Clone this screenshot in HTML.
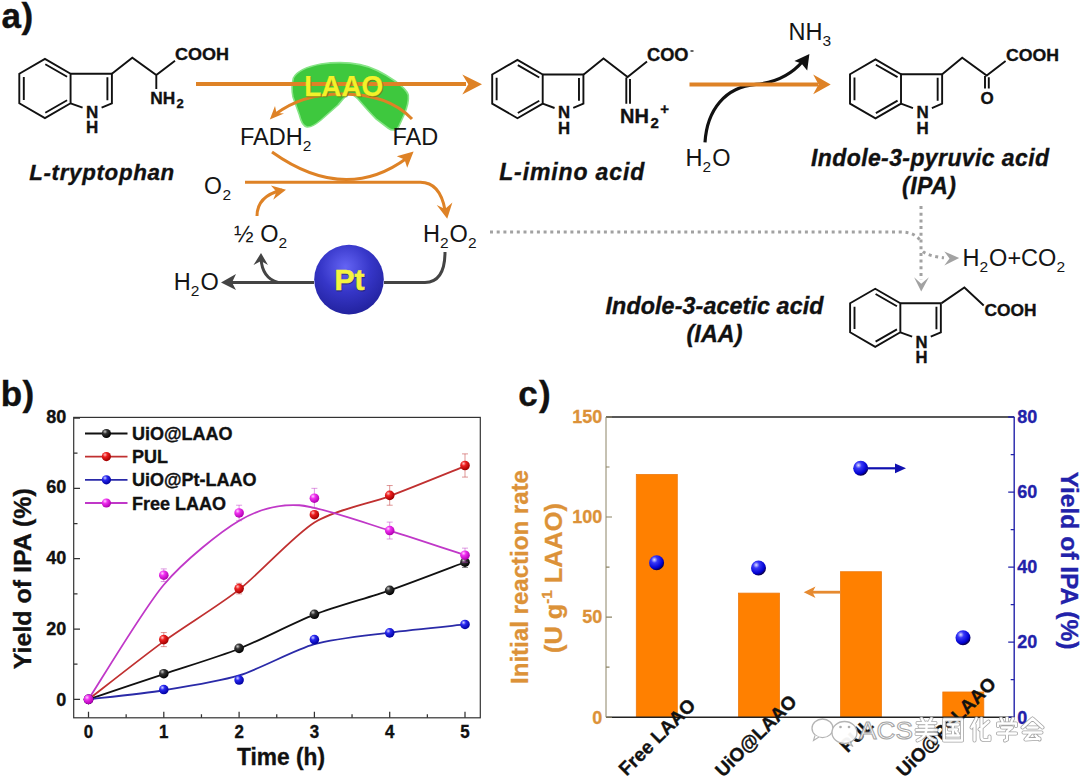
<!DOCTYPE html>
<html><head><meta charset="utf-8"><title>figure</title>
<style>
html,body{margin:0;padding:0;background:#fff;width:1080px;height:777px;overflow:hidden;}
svg{display:block;}
text{font-family:"Liberation Sans",sans-serif;}
.ab{font-weight:bold;fill:#111;}
.ar{fill:#151515;}
.bond path{fill:none;stroke:#111;stroke-width:1.9;stroke-linejoin:miter;}
.lbl{font-weight:bold;font-style:italic;fill:#111;stroke:#111;stroke-width:0.35;}
</style></head><body>
<svg width="1080" height="777" viewBox="0 0 1080 777">
<defs>
<radialGradient id="gPt" cx="0.45" cy="0.32" r="0.72">
<stop offset="0" stop-color="#6464f4"/><stop offset="0.5" stop-color="#3636c8"/><stop offset="1" stop-color="#20209a"/>
</radialGradient>
<radialGradient id="gBlk" cx="0.35" cy="0.3" r="0.7">
<stop offset="0" stop-color="#c8c8c8"/><stop offset="0.35" stop-color="#333"/><stop offset="1" stop-color="#000"/>
</radialGradient>
<radialGradient id="gRed" cx="0.35" cy="0.3" r="0.7">
<stop offset="0" stop-color="#ffc0c0"/><stop offset="0.35" stop-color="#ee2020"/><stop offset="1" stop-color="#a00000"/>
</radialGradient>
<radialGradient id="gBlue" cx="0.35" cy="0.3" r="0.7">
<stop offset="0" stop-color="#d0d0ff"/><stop offset="0.35" stop-color="#2828f0"/><stop offset="1" stop-color="#0000a0"/>
</radialGradient>
<radialGradient id="gMag" cx="0.35" cy="0.3" r="0.7">
<stop offset="0" stop-color="#ffd0ff"/><stop offset="0.35" stop-color="#f030f0"/><stop offset="1" stop-color="#b000b0"/>
</radialGradient>
<radialGradient id="gMol" cx="0.35" cy="0.3" r="0.7">
<stop offset="0" stop-color="#e0e0ff"/><stop offset="0.3" stop-color="#3838f8"/><stop offset="0.8" stop-color="#0000d0"/><stop offset="1" stop-color="#0a0050"/>
</radialGradient>
</defs>
<rect width="1080" height="777" fill="#fff"/>

<text class="ab" x="1.5" y="27.6" font-size="35" stroke="#111" stroke-width="0.4">a</text>
<text class="ab" x="21.5" y="27.6" font-size="35" stroke="#111" stroke-width="0.4">)</text>
<text class="ab" x="0.8" y="406" font-size="35" stroke="#111" stroke-width="0.4">b</text>
<text class="ab" x="22.5" y="406" font-size="35" stroke="#111" stroke-width="0.4">)</text>
<text class="ab" x="518.3" y="405.5" font-size="35" stroke="#111" stroke-width="0.4">c</text>
<text class="ab" x="539" y="405.5" font-size="35" stroke="#111" stroke-width="0.4">)</text>
<path d="M293.4,78 C297,71 305,67 321,64 C335,62 348,62 360,64.6 C372,67 385,74 395,81 C402,86 407,90 408.3,95 C409,101 407,108 404,115 L399,126 C397,131 392,131 388,128 L376,118.8 C370,113 364,106 358,99 C354,95 351,93.5 349,94 C346,95 343,99 338,105 L321,120 C315,125 311,127.5 307,127 C303,126 301,122 299.4,115 L293,97 C291.5,90 292,83 293.4,78 Z" fill="#3ec83e" stroke="#86e486" stroke-width="1.6"/>
<path d="M196,84 L466,84" stroke="#de8226" stroke-width="4" fill="none"/>
<path d="M482,84.2 L462.3,74.4 L468.3,84.2 L462.3,94.4 Z" fill="#de8226"/>
<path d="M412,119 C395,101 370,94 342,94 C312,94 290,103 275,114.5" stroke="#de8226" stroke-width="3" fill="none"/>
<path d="M269.8,119.4 L275,106 L276.5,113 L284,113.5 Z" fill="#de8226"/>
<text x="344.6" y="97.2" font-size="29.5" font-weight="bold" fill="#6a7010" stroke="#6a7010" stroke-width="0.5" text-anchor="middle" textLength="79" lengthAdjust="spacingAndGlyphs" opacity="0.7">LAAO</text>
<text x="343.8" y="96.4" font-size="29.5" font-weight="bold" fill="#f2f22a" stroke="#f2f22a" stroke-width="0.25" text-anchor="middle" textLength="79" lengthAdjust="spacingAndGlyphs">LAAO</text>
<text class="ar" x="240" y="144.8" font-size="23.5">FADH<tspan font-size="15.5" dy="5.8">2</tspan></text>
<text class="ar" x="392.5" y="144.8" font-size="23.5">FAD</text>
<path d="M272,152 Q345,204 407,158" stroke="#de8226" stroke-width="3" fill="none"/>
<path d="M413.6,151.6 L396.8,156.2 L404.5,159.5 L407.2,167.8 Z" fill="#de8226"/>
<text class="ar" x="204" y="194.2" font-size="23" textLength="27" lengthAdjust="spacing">O<tspan font-size="15.5" dy="5.8">2</tspan></text>
<path d="M245,182.2 L420,182.2 Q440,182 445,210" stroke="#de8226" stroke-width="3" fill="none"/>
<path d="M447.2,218.8 L436.7,204.9 L445,209 L452.4,202.6 Z" fill="#de8226"/>
<path d="M257,216 Q257,196 282,190" stroke="#de8226" stroke-width="3" fill="none"/>
<path d="M286,189.7 L270.9,185.4 L276.5,191.8 L273.2,199.7 Z" fill="#de8226"/>
<text class="ar" x="234" y="242" font-size="23.5">&#189; O<tspan font-size="15.5" dy="5.8">2</tspan></text>
<text class="ar" x="423" y="242" font-size="23.5">H<tspan font-size="15.5" dy="5.8">2</tspan><tspan dy="-5.8" dx="1">O</tspan><tspan font-size="15.5" dy="5.8">2</tspan></text>
<path d="M314,282.5 L227,282.5" stroke="#444" stroke-width="3" fill="none"/>
<path d="M221,282.5 L236,274 L232,282.5 L236,290 Z" fill="#444"/>
<path d="M278,282.5 Q262,278 261,258" stroke="#444" stroke-width="3" fill="none"/>
<path d="M261,253 L253.5,265 L261,261 L268,265 Z" fill="#444"/>
<path d="M384,282.5 L425,282.5 Q445,282 445,252" stroke="#444" stroke-width="3" fill="none"/>
<circle cx="349" cy="279.6" r="34.8" fill="url(#gPt)"/>
<text x="350.2" y="290.5" font-size="30" font-weight="bold" fill="#202060" stroke="#202060" stroke-width="1" text-anchor="middle" opacity="0.6">Pt</text>
<text x="349.5" y="289.8" font-size="30" font-weight="bold" fill="#f4f440" stroke="#f4f440" stroke-width="0.6" text-anchor="middle">Pt</text>
<text class="ar" x="173.8" y="289.8" font-size="23.5">H<tspan font-size="15.5" dy="5.8">2</tspan><tspan dy="-5.8" dx="1">O</tspan></text>
<path d="M490,232 L900,232 Q916,232 921,242" stroke="#a2a2a2" stroke-width="3" stroke-dasharray="3 3.7" fill="none"/>
<path d="M921,206 L921,280" stroke="#a2a2a2" stroke-width="3" stroke-dasharray="3 3.7" fill="none"/>
<path d="M921.2,291.4 L914.1,277.2 L921.2,283.7 L928.9,277.2 Z" fill="#a2a2a2"/>
<path d="M923,251.5 Q928,256 944,257.8" stroke="#a2a2a2" stroke-width="3" stroke-dasharray="3 3.7" fill="none"/>
<path d="M959.2,257.9 L944.3,251.5 L949.5,258.4 L944.3,265.6 Z" fill="#a2a2a2"/>
<text class="ar" x="962.5" y="265.8" font-size="23.5">H<tspan font-size="15.5" dy="5.8">2</tspan><tspan dy="-5.8" dx="1">O+CO</tspan><tspan font-size="15.5" dy="5.8">2</tspan></text>
<path d="M705,142.4 C707,110 725,87 756,84.4 C776,82.5 792,74 803,61" stroke="#111" stroke-width="3.2" fill="none"/>
<path d="M809.4,53.9 L794.4,61.1 L801.5,63.5 L807.2,70.6 Z" fill="#111"/>
<path d="M689.5,84.4 L818,84.4" stroke="#de8226" stroke-width="4" fill="none"/>
<path d="M830.7,84.4 L813.2,74.6 L818.5,84.4 L813.2,94.2 Z" fill="#de8226"/>
<text class="ar" x="788.5" y="39.8" font-size="23.5">NH<tspan font-size="15.5" dy="5.8">3</tspan></text>
<text class="ar" x="685.6" y="166.2" font-size="23.5">H<tspan font-size="15.5" dy="5.8">2</tspan><tspan dy="-5.8" dx="1">O</tspan></text>
<g class="bond"><path d="M19.3,73.7 L44.94,58.9 L70.57,73.7 L70.57,103.3 L44.94,118.1 L19.3,103.3 Z" /><path d="M70.57,73.7 L111.9,73.7 L111.9,103.3 L101.6,107.7" /><path d="M70.57,103.3 L82.6,107.7" /><path d="M23.8,77.1 L23.8,99.9 M45.3,64.2 L67.1,76.7 M67.1,100.3 L45.3,112.8 M107.4,77.3 L107.4,100.3" /></g>
<text class="ab" x="92.2" y="117.6" font-size="17" text-anchor="middle" stroke="#111" stroke-width="0.35">N</text>
<text class="ab" x="92.2" y="132.5" font-size="17" text-anchor="middle" stroke="#111" stroke-width="0.35">H</text>
<g class="bond"><path d="M111.9,73.7 L132.3,57.7 L156.3,75.1 L175,60.7 M156.3,75.1 L156.3,89" /></g>
<text class="ab" x="175" y="60.1" font-size="17" textLength="54" lengthAdjust="spacingAndGlyphs" stroke="#111" stroke-width="0.35">COOH</text>
<text class="ab" x="150.3" y="103.5" font-size="17.3" stroke="#111" stroke-width="0.35">NH<tspan font-size="13" dy="4.6" dx="1.2">2</tspan></text>
<text class="lbl" x="29.2" y="180" font-size="22.3" textLength="145" lengthAdjust="spacing">L-tryptophan</text>
<g class="bond"><path d="M492.2,74.5 L517.45,59.92 L542.7,74.5 L542.7,103.66 L517.45,118.23 L492.2,103.66 Z" /><path d="M542.7,74.5 L583.41,74.5 L583.41,103.66 L573.27,107.99" /><path d="M542.7,103.66 L554.55,107.99" /><path d="M496.63,77.85 L496.63,100.31 M517.81,65.14 L539.28,77.45 M539.28,100.7 L517.81,113.01 M578.98,78.05 L578.98,100.7" /></g>
<text class="ab" x="564.01" y="117.74" font-size="16.75" text-anchor="middle" stroke="#111" stroke-width="0.35">N</text>
<text class="ab" x="564.01" y="133.62" font-size="16.75" text-anchor="middle" stroke="#111" stroke-width="0.35">H</text>
<g class="bond"><path d="M583.7,74.5 L603.5,58.5 L627.6,77.1 L647,61.4 M626.3,77.5 L626.3,103.7 M630,79 L630,103.7" /></g>
<text class="ab" x="647" y="61.4" font-size="17.7" textLength="41.5" lengthAdjust="spacingAndGlyphs" stroke="#111" stroke-width="0.35">COO</text>
<path d="M690.5,51 L693.5,51" stroke="#111" stroke-width="1.3"/>
<text class="ab" x="620" y="122.9" font-size="20" stroke="#111" stroke-width="0.35">NH<tspan font-size="15" dy="4.6" dx="1.5">2</tspan><tspan font-size="15" dy="-13.5" dx="1.5">+</tspan></text>
<text class="lbl" x="499.2" y="179.9" font-size="23" textLength="145" lengthAdjust="spacing">L-imino  acid</text>
<g class="bond"><path d="M850,74.2 L875.51,59.47 L901.01,74.2 L901.01,103.65 L875.51,118.38 L850,103.65 Z" /><path d="M901.01,74.2 L942.14,74.2 L942.14,103.65 L931.89,108.03" /><path d="M901.01,103.65 L912.98,108.03" /><path d="M854.48,77.58 L854.48,100.27 M875.87,64.75 L897.56,77.19 M897.56,100.67 L875.87,113.1 M937.66,77.78 L937.66,100.67" /></g>
<text class="ab" x="922.54" y="117.88" font-size="16.91" text-anchor="middle" stroke="#111" stroke-width="0.35">N</text>
<text class="ab" x="922.54" y="133.51" font-size="16.91" text-anchor="middle" stroke="#111" stroke-width="0.35">H</text>
<g class="bond"><path d="M942.2,74.2 L962.2,57.8 L986.7,75.6 L1005.6,61.1 M985,76 L985,88.5 M988.8,77.3 L988.8,88.5" /></g>
<text class="ab" x="1006" y="60.6" font-size="17" textLength="53" lengthAdjust="spacingAndGlyphs" stroke="#111" stroke-width="0.35">COOH</text>
<text class="ab" x="987.1" y="103.6" font-size="17" text-anchor="middle" stroke="#111" stroke-width="0.35">O</text>
<text class="lbl" x="811" y="166" font-size="23" textLength="238" lengthAdjust="spacing">Indole-3-pyruvic acid</text>
<text class="lbl" x="902" y="194" font-size="23" textLength="54" lengthAdjust="spacing">(IPA)</text>
<g class="bond"><path d="M850.1,303.3 L875.22,288.8 L900.34,303.3 L900.34,332.31 L875.22,346.81 L850.1,332.31 Z" /><path d="M900.34,303.3 L940.85,303.3 L940.85,332.31 L930.75,336.62" /><path d="M900.34,332.31 L912.13,336.62" /><path d="M854.51,306.63 L854.51,328.98 M875.58,293.99 L896.94,306.24 M896.94,329.37 L875.58,341.62 M936.44,306.83 L936.44,329.37" /></g>
<text class="ab" x="921.54" y="347.52" font-size="16.66" text-anchor="middle" stroke="#111" stroke-width="0.35">N</text>
<text class="ab" x="921.54" y="362.72" font-size="16.66" text-anchor="middle" stroke="#111" stroke-width="0.35">H</text>
<g class="bond"><path d="M941.6,303.1 L964.4,287.5 L983.7,305.5" /></g>
<text class="ab" x="984.5" y="316.4" font-size="16.5" textLength="52" lengthAdjust="spacingAndGlyphs" stroke="#111" stroke-width="0.35">COOH</text>
<text class="lbl" x="605.5" y="314" font-size="23.3" textLength="218" lengthAdjust="spacing">Indole-3-acetic acid</text>
<text class="lbl" x="686.5" y="341.8" font-size="23.3" textLength="56" lengthAdjust="spacing">(IAA)</text>
<rect x="73.7" y="417.4" width="406.6" height="300.4" fill="none" stroke="#333" stroke-width="1.2"/>
<path d="M88.5,717.8 L88.5,711.8 M126.15,717.8 L126.15,714.3 M163.8,717.8 L163.8,711.8 M201.45,717.8 L201.45,714.3 M239.1,717.8 L239.1,711.8 M276.75,717.8 L276.75,714.3 M314.4,717.8 L314.4,711.8 M352.05,717.8 L352.05,714.3 M389.7,717.8 L389.7,711.8 M427.35,717.8 L427.35,714.3 M465,717.8 L465,711.8 M74,699.4 L80,699.4 M74,664.23 L77.5,664.23 M74,629.05 L80,629.05 M74,593.88 L77.5,593.88 M74,558.7 L80,558.7 M74,523.52 L77.5,523.52 M74,488.35 L80,488.35 M74,453.17 L77.5,453.17 M74,418 L80,418" stroke="#333" stroke-width="1.25" fill="none"/>
<text class="ab" x="88.5" y="738" font-size="18" text-anchor="middle" textLength="9.4" lengthAdjust="spacingAndGlyphs" stroke="#111" stroke-width="0.35">0</text>
<text class="ab" x="163.8" y="738" font-size="18" text-anchor="middle" textLength="9.4" lengthAdjust="spacingAndGlyphs" stroke="#111" stroke-width="0.35">1</text>
<text class="ab" x="239.1" y="738" font-size="18" text-anchor="middle" textLength="9.4" lengthAdjust="spacingAndGlyphs" stroke="#111" stroke-width="0.35">2</text>
<text class="ab" x="314.4" y="738" font-size="18" text-anchor="middle" textLength="9.4" lengthAdjust="spacingAndGlyphs" stroke="#111" stroke-width="0.35">3</text>
<text class="ab" x="389.7" y="738" font-size="18" text-anchor="middle" textLength="9.4" lengthAdjust="spacingAndGlyphs" stroke="#111" stroke-width="0.35">4</text>
<text class="ab" x="465" y="738" font-size="18" text-anchor="middle" textLength="9.4" lengthAdjust="spacingAndGlyphs" stroke="#111" stroke-width="0.35">5</text>
<text class="ab" x="66.2" y="705.7" font-size="18" text-anchor="end" stroke="#111" stroke-width="0.35">0</text>
<text class="ab" x="66.2" y="634.9" font-size="18" text-anchor="end" stroke="#111" stroke-width="0.35">20</text>
<text class="ab" x="66.2" y="564.1" font-size="18" text-anchor="end" stroke="#111" stroke-width="0.35">40</text>
<text class="ab" x="66.2" y="493.3" font-size="18" text-anchor="end" stroke="#111" stroke-width="0.35">60</text>
<text class="ab" x="66.2" y="422.5" font-size="18" text-anchor="end" stroke="#111" stroke-width="0.35">80</text>
<text class="ab" x="237" y="765.2" font-size="23" textLength="88" lengthAdjust="spacingAndGlyphs" stroke="#111" stroke-width="0.35">Time (h)</text>
<text class="ab" transform="translate(31.2,669.2) rotate(-90)" x="0" y="0" font-size="23" textLength="181" lengthAdjust="spacingAndGlyphs" stroke="#111" stroke-width="0.35">Yield of IPA (%)</text>
<path d="M88.5,699.4 C98.54,696.02 143.72,680.83 163.8,674.07 C183.88,667.32 219.02,656.67 239.1,648.75 C259.18,640.82 294.32,622.41 314.4,614.63 C334.48,606.84 369.62,597.35 389.7,590.36 C409.78,583.37 454.96,565.97 465,562.22" stroke="#111111" stroke-width="1.8" fill="none"/>
<path d="M88.5,699.4 C98.54,691.66 143.72,655.99 163.8,641.36 C183.88,626.73 219.02,605.51 239.1,589.65 C259.18,573.8 294.32,534.95 314.4,522.47 C334.48,509.99 369.62,503.59 389.7,496.09 C409.78,488.58 454.96,470.18 465,466.19" stroke="#c03030" stroke-width="1.8" fill="none"/>
<path d="M88.5,699.4 C98.54,698.18 143.72,693.44 163.8,690.25 C183.88,687.07 219.02,681.62 239.1,675.48 C259.18,669.34 294.32,649.9 314.4,644.18 C334.48,638.45 369.62,635.19 389.7,632.57 C409.78,629.94 454.96,625.56 465,624.48" stroke="#2a2aa8" stroke-width="1.8" fill="none"/>
<path d="M88.5,699.4 C98.54,684.11 143.72,608.55 163.8,584.73 C183.88,560.9 221.03,531.31 239.1,520.71 C257.17,510.11 279.26,503.92 299.34,505.23 C319.42,506.55 367.61,523.9 389.7,530.56 C411.79,537.22 454.96,551.9 465,555.18" stroke="#c038c8" stroke-width="1.8" fill="none"/>
<path d="M465,556.94 L465,567.49 M462,556.94 L468,556.94 M462,567.49 L468,567.49" stroke="#111111" stroke-opacity="0.5" stroke-width="1" fill="none"/>
<circle cx="88.5" cy="699.4" r="4.8" fill="url(#gBlk)"/>
<circle cx="163.8" cy="673.72" r="4.8" fill="url(#gBlk)"/>
<circle cx="239.1" cy="648.4" r="4.8" fill="url(#gBlk)"/>
<circle cx="314.4" cy="614.28" r="4.8" fill="url(#gBlk)"/>
<circle cx="389.7" cy="590.36" r="4.8" fill="url(#gBlk)"/>
<circle cx="465" cy="562.22" r="4.8" fill="url(#gBlk)"/>
<path d="M163.8,632.57 L163.8,646.64 M160.8,632.57 L166.8,632.57 M160.8,646.64 L166.8,646.64" stroke="#c03030" stroke-opacity="0.5" stroke-width="1" fill="none"/>
<path d="M239.1,583.32 L239.1,593.88 M236.1,583.32 L242.1,583.32 M236.1,593.88 L242.1,593.88" stroke="#c03030" stroke-opacity="0.5" stroke-width="1" fill="none"/>
<path d="M389.7,485.54 L389.7,505.23 M386.7,485.54 L392.7,485.54 M386.7,505.23 L392.7,505.23" stroke="#c03030" stroke-opacity="0.5" stroke-width="1" fill="none"/>
<path d="M465,453.88 L465,477.09 M462,453.88 L468,453.88 M462,477.09 L468,477.09" stroke="#c03030" stroke-opacity="0.5" stroke-width="1" fill="none"/>
<circle cx="88.5" cy="699.4" r="4.8" fill="url(#gRed)"/>
<circle cx="163.8" cy="639.6" r="4.8" fill="url(#gRed)"/>
<circle cx="239.1" cy="588.6" r="4.8" fill="url(#gRed)"/>
<circle cx="314.4" cy="514.73" r="4.8" fill="url(#gRed)"/>
<circle cx="389.7" cy="495.38" r="4.8" fill="url(#gRed)"/>
<circle cx="465" cy="465.49" r="4.8" fill="url(#gRed)"/>
<circle cx="88.5" cy="699.4" r="4.8" fill="url(#gBlue)"/>
<circle cx="163.8" cy="689.55" r="4.8" fill="url(#gBlue)"/>
<circle cx="239.1" cy="680.05" r="4.8" fill="url(#gBlue)"/>
<circle cx="314.4" cy="639.6" r="4.8" fill="url(#gBlue)"/>
<circle cx="389.7" cy="632.92" r="4.8" fill="url(#gBlue)"/>
<circle cx="465" cy="624.48" r="4.8" fill="url(#gBlue)"/>
<path d="M163.8,568.9 L163.8,581.56 M160.8,568.9 L166.8,568.9 M160.8,581.56 L166.8,581.56" stroke="#c038c8" stroke-opacity="0.5" stroke-width="1" fill="none"/>
<path d="M239.1,505.23 L239.1,520.71 M236.1,505.23 L242.1,505.23 M236.1,520.71 L242.1,520.71" stroke="#c038c8" stroke-opacity="0.5" stroke-width="1" fill="none"/>
<path d="M314.4,488.35 L314.4,508.05 M311.4,488.35 L317.4,488.35 M311.4,508.05 L317.4,508.05" stroke="#c038c8" stroke-opacity="0.5" stroke-width="1" fill="none"/>
<path d="M389.7,522.12 L389.7,539 M386.7,522.12 L392.7,522.12 M386.7,539 L392.7,539" stroke="#c038c8" stroke-opacity="0.5" stroke-width="1" fill="none"/>
<path d="M465,548.15 L465,562.22 M462,548.15 L468,548.15 M462,562.22 L468,562.22" stroke="#c038c8" stroke-opacity="0.5" stroke-width="1" fill="none"/>
<circle cx="88.5" cy="699.4" r="4.8" fill="url(#gMag)"/>
<circle cx="163.8" cy="575.23" r="4.8" fill="url(#gMag)"/>
<circle cx="239.1" cy="512.97" r="4.8" fill="url(#gMag)"/>
<circle cx="314.4" cy="498.2" r="4.8" fill="url(#gMag)"/>
<circle cx="389.7" cy="530.56" r="4.8" fill="url(#gMag)"/>
<circle cx="465" cy="555.18" r="4.8" fill="url(#gMag)"/>
<path d="M85,433.5 L127.5,433.5" stroke="#111111" stroke-width="1.8"/>
<circle cx="106.4" cy="433.5" r="4.6" fill="url(#gBlk)"/>
<text class="ab" x="132" y="440" font-size="18" stroke="#111" stroke-width="0.35">UiO@LAAO</text>
<path d="M85,456.6 L127.5,456.6" stroke="#c03030" stroke-width="1.8"/>
<circle cx="106.4" cy="456.6" r="4.6" fill="url(#gRed)"/>
<text class="ab" x="132" y="463.1" font-size="18" stroke="#111" stroke-width="0.35">PUL</text>
<path d="M85,479.8 L127.5,479.8" stroke="#2a2aa8" stroke-width="1.8"/>
<circle cx="106.4" cy="479.8" r="4.6" fill="url(#gBlue)"/>
<text class="ab" x="132" y="486.3" font-size="18" stroke="#111" stroke-width="0.35">UiO@Pt-LAAO</text>
<path d="M85,503 L127.5,503" stroke="#c038c8" stroke-width="1.8"/>
<circle cx="106.4" cy="503" r="4.6" fill="url(#gMag)"/>
<text class="ab" x="132" y="509.5" font-size="18" stroke="#111" stroke-width="0.35">Free LAAO</text>
<rect x="636.3" y="474.44" width="41" height="242.76" fill="#ff8000" stroke="#ee7a10" stroke-width="0.8"/>
<rect x="738.5" y="593.12" width="41" height="124.08" fill="#ff8000" stroke="#ee7a10" stroke-width="0.8"/>
<rect x="840.5" y="571.71" width="41" height="145.49" fill="#ff8000" stroke="#ee7a10" stroke-width="0.8"/>
<rect x="942.8" y="691.98" width="41" height="25.22" fill="#ff8000" stroke="#ee7a10" stroke-width="0.8"/>
<path d="M606,417 L1014.2,417 M606,717.2 L1014.2,717.2" stroke="#222" stroke-width="1.4"/>
<path d="M606,417 L606,717.2" stroke="#8c8466" stroke-width="1"/>
<path d="M1014.2,417 L1014.2,717.2" stroke="#2222aa" stroke-width="1.4"/>
<path d="M606,717.2 L612,717.2 M606,667.17 L609.5,667.17 M606,617.13 L612,617.13 M606,567.1 L609.5,567.1 M606,517.07 L612,517.07 M606,467.04 L609.5,467.04 M606,417.01 L612,417.01" stroke="#8c8466" stroke-width="1.1"/>
<path d="M1014.2,717.2 L1008.2,717.2 M1014.2,679.68 L1010.7,679.68 M1014.2,642.15 L1008.2,642.15 M1014.2,604.62 L1010.7,604.62 M1014.2,567.1 L1008.2,567.1 M1014.2,529.58 L1010.7,529.58 M1014.2,492.05 L1008.2,492.05 M1014.2,454.53 L1010.7,454.53 M1014.2,417 L1008.2,417" stroke="#2222aa" stroke-width="1.3"/>
<text x="602.3" y="723.5" font-size="18" font-weight="bold" fill="#dc9238" stroke="#dc9238" stroke-width="0.3" text-anchor="end">0</text>
<text x="602.3" y="623.43" font-size="18" font-weight="bold" fill="#dc9238" stroke="#dc9238" stroke-width="0.3" text-anchor="end">50</text>
<text x="602.3" y="523.37" font-size="18" font-weight="bold" fill="#dc9238" stroke="#dc9238" stroke-width="0.3" text-anchor="end">100</text>
<text x="602.3" y="423.31" font-size="18" font-weight="bold" fill="#dc9238" stroke="#dc9238" stroke-width="0.3" text-anchor="end">150</text>
<text x="1017.3" y="723.5" font-size="18" font-weight="bold" fill="#2222aa" stroke="#2222aa" stroke-width="0.3">0</text>
<text x="1017.3" y="648.45" font-size="18" font-weight="bold" fill="#2222aa" stroke="#2222aa" stroke-width="0.3">20</text>
<text x="1017.3" y="573.4" font-size="18" font-weight="bold" fill="#2222aa" stroke="#2222aa" stroke-width="0.3">40</text>
<text x="1017.3" y="498.35" font-size="18" font-weight="bold" fill="#2222aa" stroke="#2222aa" stroke-width="0.3">60</text>
<text x="1017.3" y="423.3" font-size="18" font-weight="bold" fill="#2222aa" stroke="#2222aa" stroke-width="0.3">80</text>
<text transform="translate(527.5,684) rotate(-90)" font-size="24" font-weight="bold" fill="#dc9238" stroke="#dc9238" stroke-width="0.3" textLength="214" lengthAdjust="spacingAndGlyphs">Initial reaction rate</text>
<text transform="translate(561.5,653) rotate(-90)" font-size="23.5" font-weight="bold" fill="#dc9238" stroke="#dc9238" stroke-width="0.3" textLength="150" lengthAdjust="spacingAndGlyphs">(U g<tspan font-size="14" dy="-9.5">-1</tspan><tspan dy="9.5"> LAAO)</tspan></text>
<text transform="translate(1061,471.5) rotate(90)" font-size="23" font-weight="bold" fill="#2222aa" stroke="#2222aa" stroke-width="0.3" textLength="178" lengthAdjust="spacingAndGlyphs">Yield of IPA (%)</text>
<circle cx="656.6" cy="562.8" r="7.5" fill="url(#gMol)"/>
<circle cx="758.5" cy="568" r="7.5" fill="url(#gMol)"/>
<circle cx="860.7" cy="468.3" r="7.5" fill="url(#gMol)"/>
<circle cx="963" cy="637.7" r="7.5" fill="url(#gMol)"/>
<path d="M866,468.3 L898,468.3" stroke="#1010b0" stroke-width="2.2"/>
<path d="M906,468.3 L895,463.5 L895,473.3 Z" fill="#1010b0"/>
<path d="M840.5,592.2 L812,592.2" stroke="#e68a30" stroke-width="2.8"/>
<path d="M803.7,592.2 L815.5,586.5 L812.5,592.2 L815.5,598 Z" fill="#e68a30"/>
<text class="ab" font-size="19" text-anchor="middle" transform="translate(661.6,741.6) rotate(-45)" stroke="#111" stroke-width="0.35">Free LAAO</text>
<text class="ab" font-size="19" text-anchor="middle" transform="translate(760.4,740.4) rotate(-45)" stroke="#111" stroke-width="0.35">UiO@LAAO</text>
<text class="ab" font-size="19" text-anchor="middle" transform="translate(861,740) rotate(-45)" stroke="#111" stroke-width="0.35">PUL</text>
<text class="ab" font-size="19" text-anchor="middle" transform="translate(950.7,731.6) rotate(-45)" stroke="#111" stroke-width="0.35">UiO@Pt-LAAO</text>
<g opacity="0.95">
<ellipse cx="822.5" cy="728.3" rx="10.5" ry="9.3" fill="#fff" stroke="#b0b0b0" stroke-width="1.3"/>
<path d="M815,735.5 L813.5,740.5 L819,737" fill="#fff" stroke="#b0b0b0" stroke-width="1.1"/>
<ellipse cx="844.5" cy="732.5" rx="12.5" ry="11" fill="#fff" stroke="#b0b0b0" stroke-width="1.3"/>
<path d="M850,742 L853,746.5 L847.5,743.2" fill="#fff" stroke="#b0b0b0" stroke-width="1.1"/>
<circle cx="840.5" cy="727" r="1.3" fill="#aaa"/><circle cx="849" cy="727" r="1.3" fill="#aaa"/>
<text x="859" y="738.6" font-size="24.5" fill="#fff" stroke="#a0a0a0" stroke-width="1" textLength="54" lengthAdjust="spacingAndGlyphs">ACS</text>
<g transform="translate(914.5,717.5) scale(1)"><path d="M7,1 L9,4 M17,1 L15,4 M3,5.5 L21,5.5 M5,9 L19,9 M2,12.5 L22,12.5 M12,5 L12,12.5 M2,16.5 L22,16.5 M12,12.5 C11,18 8,21 3,23 M12.5,16.5 C14,20 17,22 21,23" fill="none" stroke="#a0a0a0" stroke-width="4" stroke-linecap="round" stroke-linejoin="round"/><path d="M7,1 L9,4 M17,1 L15,4 M3,5.5 L21,5.5 M5,9 L19,9 M2,12.5 L22,12.5 M12,5 L12,12.5 M2,16.5 L22,16.5 M12,12.5 C11,18 8,21 3,23 M12.5,16.5 C14,20 17,22 21,23" fill="none" stroke="#fff" stroke-width="2.4" stroke-linecap="round" stroke-linejoin="round"/></g>
<g transform="translate(941,717.5) scale(1)"><path d="M3,2 L21,2 L21,23 L3,23 Z M7,7 L17,7 M8,12 L16,12 M6,18 L18,18 M12,7 L12,18 M15,14 L17,16" fill="none" stroke="#a0a0a0" stroke-width="4" stroke-linecap="round" stroke-linejoin="round"/><path d="M3,2 L21,2 L21,23 L3,23 Z M7,7 L17,7 M8,12 L16,12 M6,18 L18,18 M12,7 L12,18 M15,14 L17,16" fill="none" stroke="#fff" stroke-width="2.4" stroke-linecap="round" stroke-linejoin="round"/></g>
<g transform="translate(968.5,717.5) scale(1)"><path d="M8,1 L3,10 M6,7 L6,23 M20,4 L11,12 M13,1 L13,20 C13,22 14,22.5 16,22.5 L21,22.5 L21,19" fill="none" stroke="#a0a0a0" stroke-width="4" stroke-linecap="round" stroke-linejoin="round"/><path d="M8,1 L3,10 M6,7 L6,23 M20,4 L11,12 M13,1 L13,20 C13,22 14,22.5 16,22.5 L21,22.5 L21,19" fill="none" stroke="#fff" stroke-width="2.4" stroke-linecap="round" stroke-linejoin="round"/></g>
<g transform="translate(995,717.5) scale(1)"><path d="M6,1 L7.5,4 M12,0.5 L12,3 M18,1 L16.5,4 M3,8.5 L3,6 L21,6 L21,8.5 M7,10 L17,10 L12,14 L12,22 L10,23 M3,16 L21,16" fill="none" stroke="#a0a0a0" stroke-width="4" stroke-linecap="round" stroke-linejoin="round"/><path d="M6,1 L7.5,4 M12,0.5 L12,3 M18,1 L16.5,4 M3,8.5 L3,6 L21,6 L21,8.5 M7,10 L17,10 L12,14 L12,22 L10,23 M3,16 L21,16" fill="none" stroke="#fff" stroke-width="2.4" stroke-linecap="round" stroke-linejoin="round"/></g>
<g transform="translate(1020.5,717.5) scale(1)"><path d="M12,1 L2,10 M12,1 L22,10 M7,10 L17,10 M3,15 L21,15 M11,15 L5,22 L19,21 M15,18 L19,22" fill="none" stroke="#a0a0a0" stroke-width="4" stroke-linecap="round" stroke-linejoin="round"/><path d="M12,1 L2,10 M12,1 L22,10 M7,10 L17,10 M3,15 L21,15 M11,15 L5,22 L19,21 M15,18 L19,22" fill="none" stroke="#fff" stroke-width="2.4" stroke-linecap="round" stroke-linejoin="round"/></g>
</g>
</svg></body></html>
